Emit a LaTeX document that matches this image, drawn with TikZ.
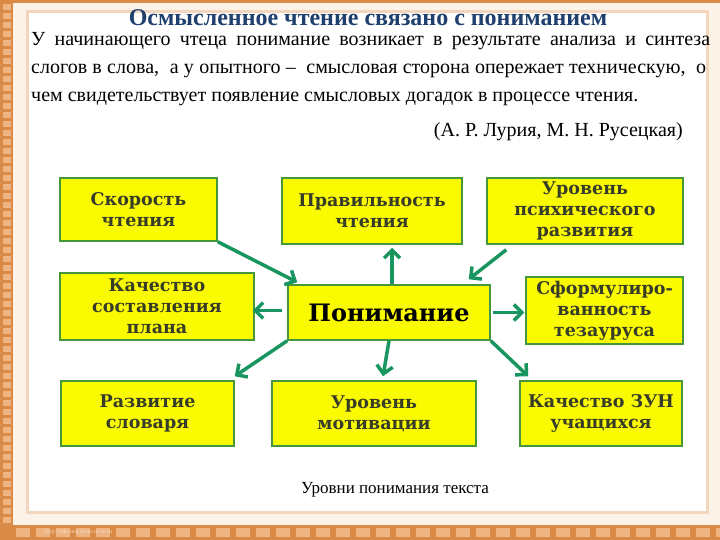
\documentclass[tikz,border=0pt]{standalone}
\usepackage{fontspec}
\setmainfont{Liberation Serif}
\newfontfamily\boxfont{DejaVu Serif}
\usetikzlibrary{arrows.meta,calc,positioning}

\definecolor{boxyellow}{RGB}{250,250,0}
\definecolor{boxgreen}{RGB}{70,150,60}
\definecolor{arrowgreen}{RGB}{25,150,95}
\definecolor{titleblue}{RGB}{31,63,110}
\definecolor{boxtext}{RGB}{55,60,40}
\definecolor{frameorange}{RGB}{217,138,70}
\definecolor{framelight}{RGB}{238,180,130}
\definecolor{framecream}{RGB}{252,242,232}
\definecolor{panelpeach}{RGB}{243,214,190}

\begin{document}
\begin{tikzpicture}
    [x=1pt, y=-1pt,
    box/.style={rectangle, draw=boxgreen, line width=1.5pt, fill=boxyellow,
    align=center, inner sep=0pt, text=boxtext,
    font=\boxfont\bfseries\fontsize{17.5}{21}\selectfont},
    hub/.style={box, text=black, font=\boxfont\bfseries\fontsize{24}{27}\selectfont},
    desc/.style={inner sep=0pt, font=\fontsize{20}{24}\selectfont},
    >={Straight Barb[length=8pt,width=16pt]},
    link/.style={->, draw=arrowgreen, line width=3.5pt}]

  % slide frame
  \useasboundingbox (0,0) rectangle (720,540);
  \fill[framecream] (0,0) rectangle (720,540);
  \fill[frameorange] (0,0) rectangle (13,540);
  \fill[frameorange] (0,0) rectangle (720,3);
  \fill[frameorange] (0,525) rectangle (720,540);
  \foreach \y in {4,13,...,520}
    \fill[framelight] (2.5,\y) rectangle (10.5,\y+6);
  \foreach \x in {16,36,...,716}
    \fill[framelight] (\x,528) rectangle (\x+14,537);
  \filldraw[fill=white, draw=panelpeach, line width=3pt] (27,12) rectangle (707,512);
  \node[desc, anchor=west, font=\fontsize{6}{7}\selectfont, text=framelight!50!white]
    (url) at (45,532) {http://edu-teacherzv.ucoz.ru};

  % heading and quote
  \node[desc, text=titleblue, font=\bfseries\fontsize{24}{28}\selectfont]
    (title) at (368,18) {Осмысленное чтение связано с пониманием};
  \node[desc, anchor=base west] (line_a) at (31,46)
    {\makebox[679pt][s]{У начинающего чтеца понимание возникает в результате анализа и синтеза}};
  \node[desc, anchor=base west] (line_b) at (31,74)
    {\makebox[675pt][s]{слогов в слова, \ а у опытного – \ смысловая сторона опережает техническую, \ о}};
  \node[desc, anchor=base west] (line_c) at (31,102)
    {чем свидетельствует появление смысловых догадок в процессе чтения.};
  \node[desc, anchor=base east] (authors) at (683,137) {(А. Р. Лурия, М. Н. Русецкая)};

  % boxes
  \node[hub, minimum width=202pt, minimum height=55pt] (P) at (389,312.5) {Понимание};
  \node[box, minimum width=157pt, minimum height=63pt] (A) at (138.5,209.5) {Скорость\\чтения};
  \node[box, minimum width=180pt, minimum height=66pt] (B) at (372,211) {Правильность\\чтения};
  \node[box, minimum width=196pt, minimum height=66pt] (C) at (585,211) {Уровень\\психического\\развития};
  \node[box, minimum width=194pt, minimum height=67pt] (D) at (157,306.5) {Качество\\составления\\плана};
  \node[box, minimum width=157pt, minimum height=67pt] (E) at (604.5,310.5) {Сформулиро-\\ванность\\тезауруса};
  \node[box, minimum width=173pt, minimum height=65pt] (F) at (147.5,413.5) {Развитие\\словаря};
  \node[box, minimum width=204pt, minimum height=65pt] (G) at (374,413.5) {Уровень\\мотивации};
  \node[box, minimum width=162pt, minimum height=65pt] (H) at (601,413.5) {Качество ЗУН\\учащихся};

  \node[desc, font=\fontsize{17}{20}\selectfont] (caption) at (395,490) {Уровни понимания текста};

  % arrows
  \draw[link] (A.south east) -- ($(P.north west)+(10,-2)$);
  \draw[link] ($(C.south west)+(20,5)$) -- ($(P.north east)+(-22,-5)$);
  \draw[link] ($(P.north)+(3,0)$) -- ($(P.north |- B.south)+(3,3)$);
  \draw[link] ($(P.west)+(-5,-2)$) -- ($(P.west -| D.east)+(-2,-2)$);
  \draw[link] ($(P.east)+(2,0)$) -- ($(P.east -| E.west)+(-1,0)$);
  \draw[link] (P.south west) -- ($(F.north east)+(0,-4)$);
  \draw[link] (P.south) -- ($(G.north)+(9,-4)$);
  \draw[link] (P.south east) -- ($(H.north west)+(9,-4)$);

\end{tikzpicture}
\end{document}
